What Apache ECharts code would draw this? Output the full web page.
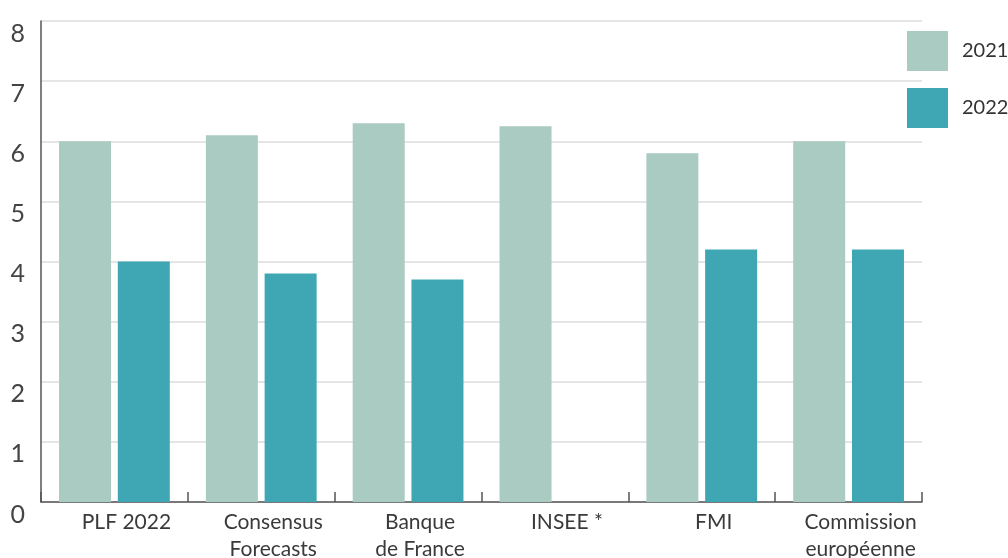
<!DOCTYPE html>
<html>
<head>
<meta charset="utf-8">
<script src="https://cdn.jsdelivr.net/npm/echarts@6/dist/echarts.min.js"></script>
<style>
  html, body { margin: 0; padding: 0; background: #fff; }
  #chart { width: 1008px; height: 558px; }
</style>
</head>
<body>
<div id="chart"></div>
<script>
// Growth forecasts by institution (%)
const categories = ['PLF 2022', 'Consensus\nForecasts', 'Banque\nde France', 'INSEE *', 'FMI', 'Commission\neuropéenne'];
const values2021 = [6.0, 6.1, 6.3, 6.25, 5.8, 6.0];
const values2022 = [4.0, 3.8, 3.7, null, 4.2, 4.2];
const seriesNames = ['2021', '2022'];
const yTicks = [0, 1, 2, 3, 4, 5, 6, 7, 8];

const chart = echarts.init(document.getElementById('chart'));
const fontFamily = 'Lato, "Noto Sans", sans-serif';

chart.setOption({
  animation: false,
  textStyle: { fontFamily: fontFamily },
  grid: { left: 41, right: 86, top: 21, bottom: 56, containLabel: false, outerBoundsMode: 'none' },
  legend: {
    orient: 'vertical',
    left: 907,
    top: 31,
    padding: 0,
    itemWidth: 41,
    itemHeight: 40,
    itemGap: 17,
    icon: 'rect',
    data: seriesNames,
    textStyle: { fontSize: 20, color: '#333', fontFamily: fontFamily, padding: [0, 0, 0, 9] }
  },
  xAxis: {
    type: 'category',
    data: categories,
    axisLine: { lineStyle: { color: '#555', width: 1.5 } },
    axisTick: { show: true, inside: true, length: 10, alignWithLabel: false, lineStyle: { color: '#555', width: 1.5 } },
    axisLabel: {
      fontSize: 21,
      lineHeight: 27,
      color: '#3a3a3a',
      margin: 7,
      padding: [0, 0, 0, 24],
      interval: 0
    }
  },
  yAxis: {
    type: 'value',
    min: yTicks[0],
    max: yTicks[yTicks.length - 1],
    interval: 1,
    axisLine: { show: true, lineStyle: { color: '#555', width: 1.5 } },
    axisTick: { show: false },
    splitLine: { lineStyle: { color: '#dcdcdc', width: 1.5 } },
    axisLabel: {
      fontSize: 25,
      lineHeight: 25,
      color: '#444',
      margin: 16,
      verticalAlign: 'top'
    }
  },
  series: [
    {
      name: seriesNames[0],
      type: 'bar',
      data: values2021,
      barWidth: 52,
      barGap: '13%',
      itemStyle: { color: '#a9cbc2' }
    },
    {
      name: seriesNames[1],
      type: 'bar',
      data: values2022,
      barWidth: 52,
      barGap: '13%',
      itemStyle: { color: '#3fa7b3' }
    }
  ]
});
</script>
</body>
</html>
